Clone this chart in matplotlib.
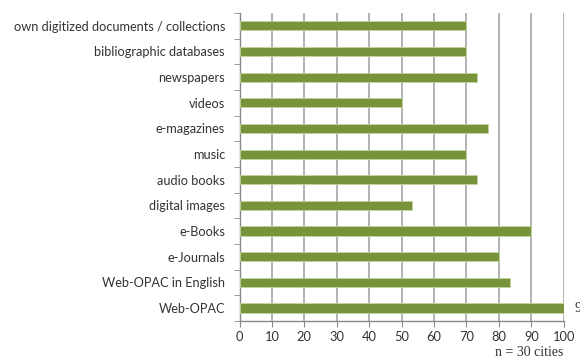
import matplotlib.pyplot as plt
import numpy as np

categories = ['own digitized documents / collections', 'bibliographic databases',
              'newspapers', 'videos', 'e-magazines', 'music', 'audio books',
              'digital images', 'e-Books', 'e-Journals', 'Web-OPAC in English',
              'Web-OPAC']
values = [70.0, 70.0, 73.3, 50.0, 76.7, 70.0, 73.3, 53.3, 90.0, 80.0, 83.3, 100.0]
xticks = list(range(0, 101, 10))

plt.rcParams['font.family'] = ['Lato', 'DejaVu Sans']

fig = plt.figure(figsize=(5.8, 3.61), dpi=100)
ax = fig.add_axes([0.413, 0.111, 0.559, 0.853])

y = np.arange(len(categories))
ax.barh(y, values, height=0.36, color='#77933C', edgecolor='#C3D69B',
        linewidth=0.6, zorder=3)

ax.set_xlim(0, 100)
ax.set_ylim(len(categories) - 0.5, -0.5)
ax.set_xticks(xticks)
ax.set_xticklabels([str(t) for t in xticks], fontsize=9.3, color='#333333')
ax.set_yticks(y)
ax.set_yticklabels(categories, fontsize=9.2, color='#333333')
ax.tick_params(axis='y', length=0, pad=10.5)
ax.tick_params(axis='x', length=4, color='#888888', direction='out', pad=3)
ax.set_yticks(np.arange(len(categories) + 1) - 0.5, minor=True)
ax.tick_params(axis='y', which='minor', length=4, color='#888888', direction='out')

ax.grid(axis='x', color='#A6A6A6', linewidth=1.2, zorder=0)
for s in ['top', 'right']:
    ax.spines[s].set_visible(False)
for s in ['left', 'bottom']:
    ax.spines[s].set_color('#888888')
    ax.spines[s].set_linewidth(1.0)

fig.text(0.972, 0.005, 'n = 30 cities', ha='right', va='bottom',
         fontsize=10, family='Liberation Serif', color='#333333')
ax.text(103.3, len(categories) - 1, '9', ha='left', va='center',
        fontsize=10, family='Liberation Serif', color='#333333', clip_on=False)

fig.savefig('out.png', dpi=100)
